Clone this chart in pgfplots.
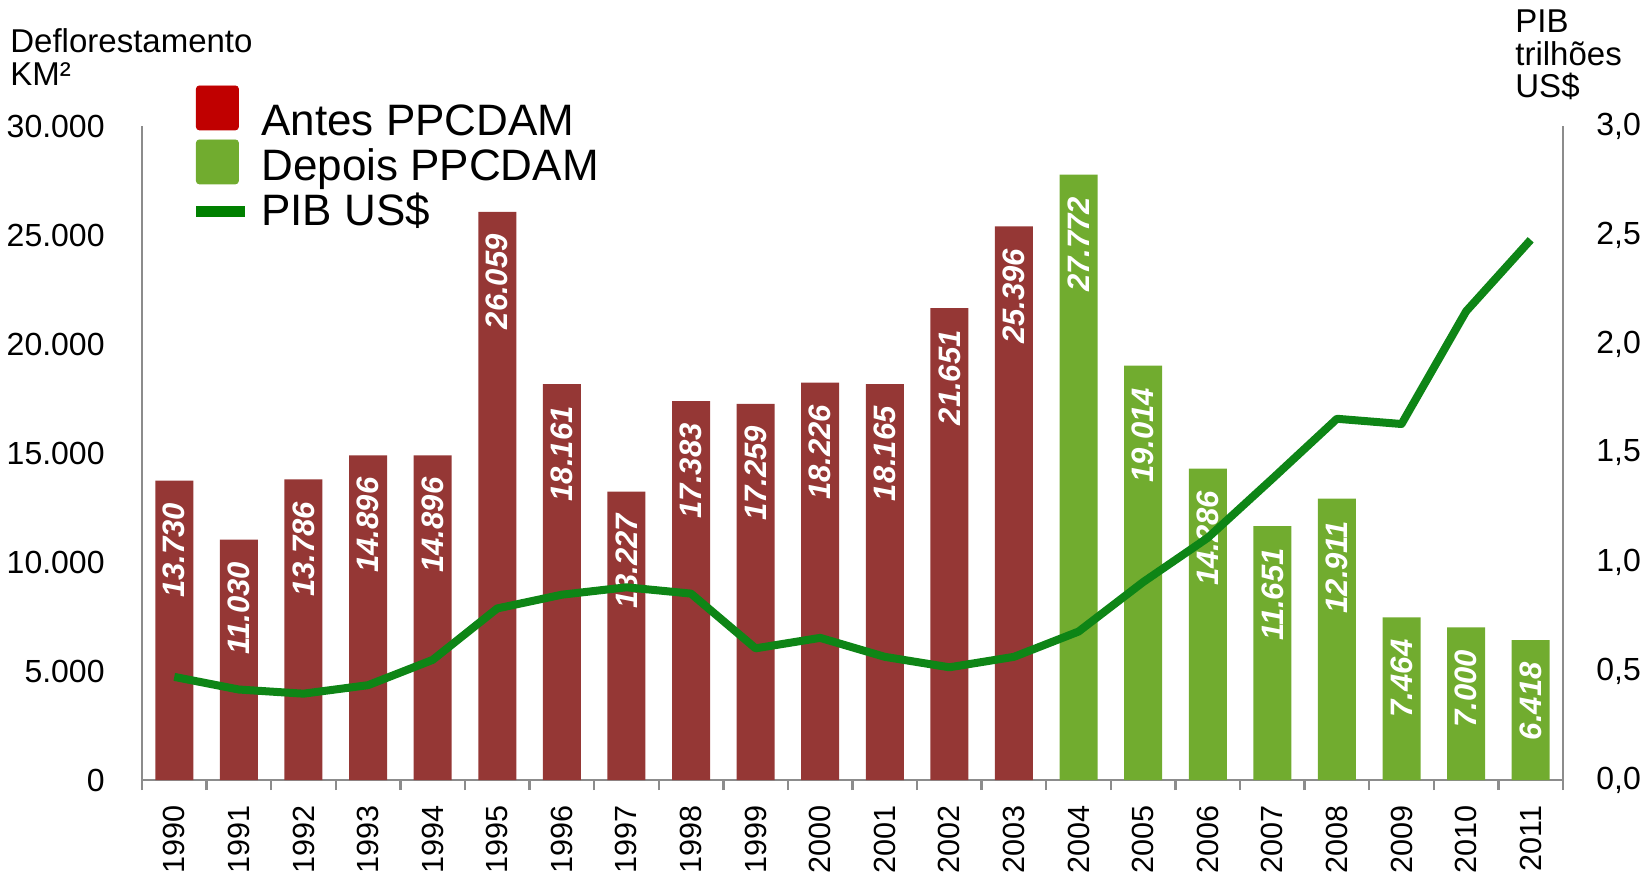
\documentclass[border=0pt]{standalone}
\usepackage{fontspec}
\setmainfont{Liberation Sans}
\usepackage{pgfplots}
\pgfplotsset{compat=1.18}
\definecolor{barred}{HTML}{953735}
\definecolor{bargreen}{HTML}{71AC2F}
\definecolor{legred}{HTML}{C00000}
\definecolor{linegreen}{HTML}{0E8516}
\definecolor{legline}{HTML}{008000}
\definecolor{axgray}{HTML}{8C8C8C}
\pgfplotstableread{
x y
0 13730
1 11030
2 13786
3 14896
4 14896
5 26059
6 18161
7 13227
8 17383
9 17259
10 18226
11 18165
12 21651
13 25396
}\antes
\pgfplotstableread{
x y
14 27772
15 19014
16 14286
17 11651
18 12911
19 7464
20 7000
21 6418
}\depois
\pgfplotstableread{
x y
0 0.473
1 0.415
2 0.396
3 0.435
4 0.551
5 0.787
6 0.850
7 0.884
8 0.855
9 0.604
10 0.652
11 0.565
12 0.517
13 0.565
14 0.681
15 0.908
16 1.111
17 1.382
18 1.657
19 1.633
20 2.150
21 2.478
}\pib
\begin{document}
\begin{tikzpicture}
\path[use as bounding box] (-71pt,-50pt) rectangle (754pt,390pt);
\begin{axis}[
  scale only axis, width=710.5pt, height=327pt,
  at={(0,0)}, anchor=south west,
  xmin=-0.5, xmax=21.5, ymin=0, ymax=30000,
  axis x line*=bottom, axis y line*=left,
  axis line style={draw=axgray, line width=1.2pt, -},
  /pgf/number format/assume math mode=true,
  xtick={0,...,21},
  xticklabels={1990,1991,1992,1993,1994,1995,1996,1997,1998,1999,2000,2001,2002,2003,2004,2005,2006,2007,2008,2009,2010,2011},
  minor xtick={-0.5,0.5,...,21.5},
  major tick length=0pt,
  minor tick length=5pt,
  tick align=outside,
  minor x tick style={draw=axgray, line width=1.2pt},
  ytick={0,5000,...,30000},
  scaled y ticks=false,
  yticklabel style={/pgf/number format/.cd, fixed, precision=0, 1000 sep={.}, assume math mode=true, /tikz/.cd, font=\fontsize{16}{16}\selectfont, anchor=east, inner sep=0pt, xshift=-18.5pt},
  xticklabel style={font=\fontsize{15.3}{15.3}\selectfont, yshift=-12.5pt, rotate=90, anchor=east, inner sep=0pt},
  legend style={at={(axis description cs:0,1)}, anchor=north west, xshift=27pt, yshift=12.5pt, draw=none, fill=none, inner sep=0pt,
    font=\fontsize{22}{22}\selectfont, row sep=0pt, column sep=8pt,
    nodes={inner sep=0pt, text height=17pt, text depth=5.5pt}},
  legend cell align=left,
  clip=false,
]
\addlegendimage{legend image code/.code={\fill[overlay, legred, rounded corners=1.5pt] (0pt,-3pt) rectangle (21pt,19pt); \path[draw=none, fill=none] (0pt,0pt) rectangle (24.5pt,1pt);}}
\addlegendentry{Antes PPCDAM}
\addlegendimage{legend image code/.code={\fill[overlay, bargreen, rounded corners=1.5pt] (0pt,-7.5pt) rectangle (21pt,14.5pt); \path[draw=none, fill=none] (0pt,0pt) rectangle (24.5pt,1pt);}}
\addlegendentry{Depois PPCDAM}
\addlegendimage{legend image code/.code={\draw[overlay, legline, line width=5.3pt] (0pt,1.3pt) -- (24.5pt,1.3pt); \path[draw=none, fill=none] (0pt,0pt) rectangle (24.5pt,1pt);}}
\addlegendentry{PIB US\$}
\addplot[ybar, bar width=19pt, bar shift=0pt, fill=barred, draw=none, forget plot,
  nodes near coords={\pgfmathprintnumber[fixed,precision=0,1000 sep={.},assume math mode=true]{\pgfplotspointmeta}},
  every node near coord/.append style={font=\bfseries\itshape\fontsize{15.5}{15.5}\selectfont, text=white, yshift=-11pt, rotate=90, anchor=east, inner sep=0pt}]
  table[x=x, y=y] {\antes};
\addplot[ybar, bar width=19pt, bar shift=0pt, fill=bargreen, draw=none, forget plot,
  nodes near coords={\pgfmathprintnumber[fixed,precision=0,1000 sep={.},assume math mode=true]{\pgfplotspointmeta}},
  every node near coord/.append style={font=\bfseries\itshape\fontsize{15.5}{15.5}\selectfont, text=white, yshift=-11pt, rotate=90, anchor=east, inner sep=0pt}]
  table[x=x, y=y] {\depois};
\end{axis}
\begin{axis}[
  scale only axis, width=710.5pt, height=327pt,
  at={(0,0)}, anchor=south west,
  xmin=-0.5, xmax=21.5, ymin=0, ymax=3,
  axis x line=none, axis y line*=right,
  axis line style={draw=axgray, line width=1.2pt, -},
  /pgf/number format/assume math mode=true,
  ytick={0,0.5,...,3},
  major tick length=0pt,
  yticklabel style={/pgf/number format/.cd, fixed, fixed zerofill, precision=1, use comma, assume math mode=true, /tikz/.cd, font=\fontsize{16}{16}\selectfont, anchor=west, inner sep=0pt, xshift=16.5pt},
  clip=false,
]
\addplot[linegreen, line width=4pt, line join=round, no markers] table[x=x, y=y] {\pib};
\end{axis}
\node[anchor=base west, font=\fontsize{16.5}{16.5}\selectfont, inner sep=0pt] at (-66pt,363.5pt) {Deflorestamento};
\node[anchor=base west, font=\fontsize{16.5}{16.5}\selectfont, inner sep=0pt] at (-66pt,347pt) {KM²};
\node[anchor=base west, font=\fontsize{16.5}{16.5}\selectfont, inner sep=0pt] at (686.5pt,373.5pt) {PIB};
\node[anchor=base west, font=\fontsize{16.5}{16.5}\selectfont, inner sep=0pt] at (686.5pt,357pt) {trilhões};
\node[anchor=base west, font=\fontsize{16.5}{16.5}\selectfont, inner sep=0pt] at (686.5pt,341pt) {US\$};
\end{tikzpicture}
\end{document}
